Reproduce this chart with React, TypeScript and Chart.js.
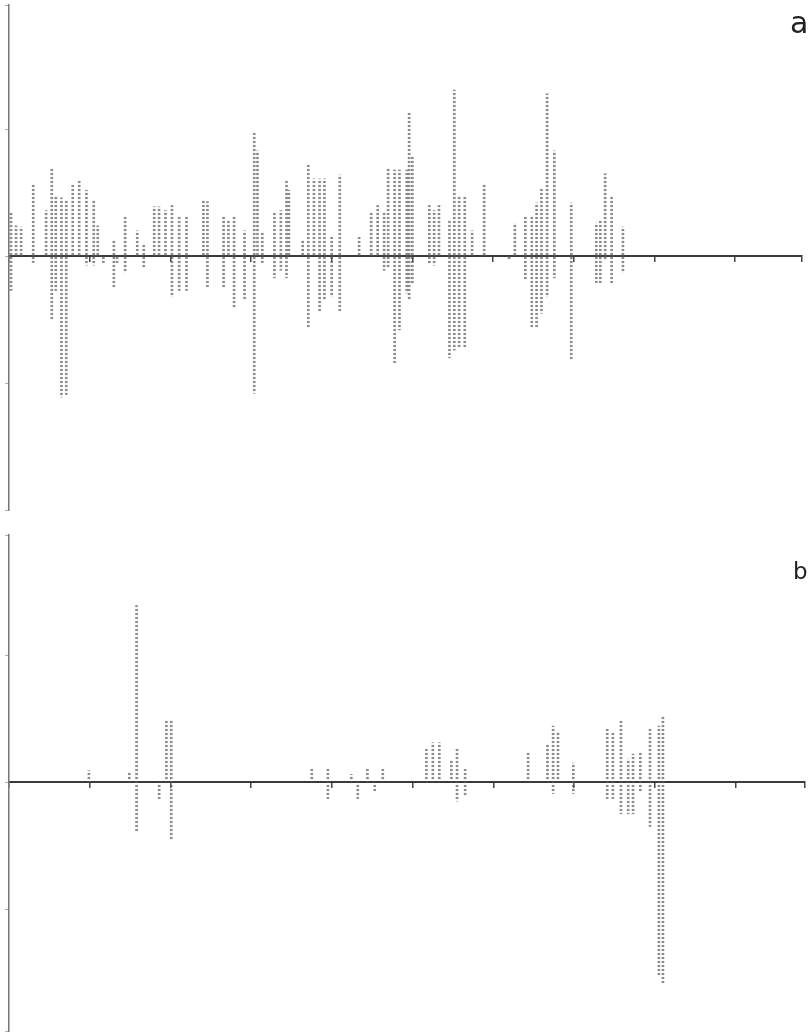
import React, { useEffect, useRef } from "react";
import { Chart, registerables } from "chart.js";

Chart.register(...registerables);

// Panel a: bar positions (x) with upward and downward values (0 = none)
const aX = [0.25, 0.87, 1.5, 3.0, 4.6, 5.3, 5.8, 6.5, 7.1, 7.9, 8.7, 9.6, 10.5, 11.0, 11.7, 13.0, 13.4, 14.4, 15.9, 16.7, 18.0, 18.6, 19.4, 20.2, 21.1, 22.0, 24.1, 24.6, 26.6, 27.2, 27.9, 29.2, 30.4, 30.8, 31.4, 32.9, 33.7, 34.4, 34.7, 36.4, 37.1, 37.8, 38.5, 39.1, 40.0, 41.0, 43.4, 44.9, 45.7, 46.5, 47.0, 47.8, 48.4, 49.3, 49.6, 50.0, 52.1, 52.7, 53.3, 54.6, 55.2, 55.8, 56.5, 57.4, 58.9, 62.0, 62.7, 64.0, 64.8, 65.4, 66.0, 66.7, 67.6, 69.7, 72.8, 73.3, 73.9, 74.7, 76.1];
const aUp = [3.5, 2.4, 2.3, 5.7, 3.6, 6.9, 4.8, 4.6, 4.4, 5.6, 6.0, 5.2, 4.4, 2.4, 0, 1.3, 0, 3.1, 2.0, 1.0, 3.9, 3.9, 3.6, 4.0, 3.1, 3.1, 4.4, 4.3, 3.1, 2.8, 3.1, 2.0, 9.7, 8.3, 1.9, 3.4, 3.6, 6.0, 5.2, 1.3, 7.2, 6.1, 6.1, 6.1, 1.5, 6.4, 1.5, 3.4, 4.0, 3.4, 7.0, 6.8, 6.8, 6.8, 11.3, 7.8, 4.0, 3.6, 4.0, 2.8, 13.1, 4.8, 4.8, 2.0, 5.7, 0, 2.6, 3.2, 3.2, 4.2, 5.4, 12.8, 8.3, 4.2, 2.6, 2.8, 6.5, 4.8, 2.3];
const aDown = [-2.7, 0, 0, -0.5, 0, -5.0, -2.7, -11.1, -10.9, 0, 0, -0.7, -0.7, 0, -0.5, -2.4, -0.5, -1.3, 0, -0.9, 0, 0, 0, -3.2, -2.7, -2.7, 0, -2.4, -2.4, 0, -4.1, -3.5, -10.8, 0, -0.5, -1.7, -1.1, -1.7, 0, 0, -5.6, 0, -4.3, -3.5, -3.2, -4.3, 0, 0, 0, -1.1, -0.9, -8.4, -5.8, -2.9, -3.5, -2.1, -0.6, -0.7, 0, -8.0, -7.4, -7.2, -7.2, 0, 0, -0.3, 0, -1.9, -5.6, -5.6, -4.5, -3.2, -1.7, -8.2, -2.1, -2.1, -0.3, -2.1, -1.3];

// Panel b
const bX = [9.9, 14.9, 15.8, 18.6, 19.5, 20.1, 37.5, 39.5, 42.4, 43.2, 44.4, 45.3, 46.3, 51.7, 52.5, 53.3, 54.8, 55.5, 56.5, 64.3, 66.7, 67.4, 68.0, 69.9, 74.1, 74.8, 75.8, 76.7, 77.3, 78.2, 79.4, 80.5, 81.0];
const bUp = [0.9, 0.7, 13.9, 0, 4.9, 4.9, 1.0, 1.0, 0.6, 0, 1.0, 0, 1.0, 2.6, 3.1, 3.1, 1.7, 2.6, 1.0, 2.4, 3.0, 4.4, 4.0, 1.5, 4.2, 3.9, 4.8, 1.8, 2.2, 2.3, 4.2, 4.4, 5.2];
const bDown = [0, 0, -3.9, -1.3, 0, -4.6, 0, -1.3, 0, -1.3, 0, -0.7, 0, 0, 0, 0, 0, -1.5, -1.1, 0, 0, -0.9, 0, -0.9, -1.3, -1.3, -2.5, -2.5, -2.5, -0.7, -3.5, -15.2, -15.8];

const panelLabels = ["a", "b"];

function dotPattern(ctx: CanvasRenderingContext2D) {
  const c = document.createElement("canvas");
  c.width = 2;
  c.height = 4;
  const g = c.getContext("2d")!;
  g.fillStyle = "rgba(190,190,190,0.15)";
  g.fillRect(0, 0, 2, 4);
  g.fillStyle = "rgba(85,85,85,0.65)";
  g.fillRect(0, 1, 2, 2);
  return ctx.createPattern(c, "repeat")!;
}

function makeChart(
  canvas: HTMLCanvasElement,
  xs: number[],
  ups: number[],
  downs: number[],
  xMax: number,
  yMin: number,
  yMax: number,
  pad: { left: number; right: number; top: number; bottom: number }
) {
  const ctx = canvas.getContext("2d")!;
  const pat = dotPattern(ctx);
  const upData = xs.map((x, i) => ({ x, y: ups[i] })).filter((p) => p.y !== 0);
  const downData = xs.map((x, i) => ({ x, y: downs[i] })).filter((p) => p.y !== 0);
  return new Chart(ctx, {
    type: "bar",
    data: {
      datasets: [
        { data: upData as any, backgroundColor: pat as any, borderWidth: 0, barThickness: 2, grouped: false } as any,
        { data: downData as any, backgroundColor: pat as any, borderWidth: 0, barThickness: 2, grouped: false } as any,
      ],
    },
    options: {
      animation: false,
      responsive: false,
      events: [],
      layout: { padding: pad },
      plugins: {
        legend: { display: false },
        tooltip: { enabled: false },
        title: { display: false },
      },
      scales: {
        x: {
          type: "linear",
          min: 0,
          max: xMax,
          offset: false,
          position: { y: 0 } as any,
          ticks: { display: false, stepSize: 10 },
          grid: { display: true, offset: false, drawOnChartArea: false, drawTicks: true, tickLength: 5, color: "#444", lineWidth: 1.5 },
          border: { display: true, color: "#3a3a3a", width: 2 },
        },
        y: {
          type: "linear",
          min: yMin,
          max: yMax,
          position: "left",
          ticks: { display: false, stepSize: 10 },
          grid: { display: true, drawOnChartArea: false, drawTicks: true, tickLength: 4, color: "#aaa" },
          border: { display: true, color: "#777", width: 1.5 },
        },
      },
    },
  });
}

export default function App() {
  const refA = useRef<HTMLCanvasElement>(null);
  const refB = useRef<HTMLCanvasElement>(null);

  useEffect(() => {
    const ca = makeChart(refA.current!, aX, aUp, aDown, 98.3, -20, 19.8, { left: 5, right: 10, top: 5, bottom: 2 });
    const cb = makeChart(refB.current!, bX, bUp, bDown, 98.6, -19.6, 19.45, { left: 5, right: 7, top: 15, bottom: 2 });
    return () => {
      ca.destroy();
      cb.destroy();
    };
  }, []);

  return (
    <div style={{ position: "absolute", left: 0, top: 0, width: 812, height: 1033, overflow: "hidden", background: "#fff" }}>
      <canvas ref={refA} width={812} height={512} style={{ position: "absolute", left: 0, top: 0, width: 812, height: 512 }} />
      <canvas ref={refB} width={812} height={513} style={{ position: "absolute", left: 0, top: 520, width: 812, height: 513 }} />
      <span style={{ position: "absolute", left: 790, top: 8, fontFamily: "'DejaVu Sans', sans-serif", fontSize: 30, lineHeight: "30px", color: "#222" }}>
        {panelLabels[0]}
      </span>
      <span style={{ position: "absolute", left: 793, top: 560, fontFamily: "'DejaVu Sans', sans-serif", fontSize: 23, lineHeight: "23px", color: "#222" }}>
        {panelLabels[1]}
      </span>
    </div>
  );
}
